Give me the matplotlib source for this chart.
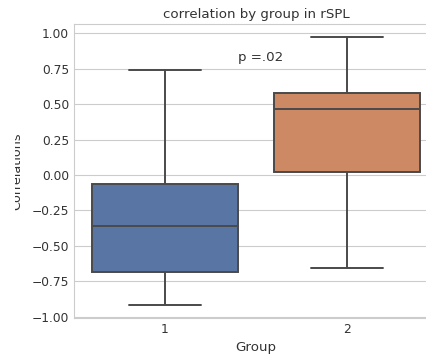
import matplotlib
matplotlib.use("Agg")
import matplotlib.pyplot as plt
import seaborn as sns
from matplotlib.transforms import Bbox, TransformedBbox

# box summary
groups = ["1", "2"]
whisker_low = [-0.915, -0.655]
q1 = [-0.683, 0.021]
median = [-0.36, 0.465]
q3 = [-0.063, 0.577]
whisker_high = [0.739, 0.972]
p_text = "p =.02"

sns.set_style("whitegrid")
plt.rcParams["font.family"] = ["DejaVu Sans"]

fig = plt.figure(figsize=(4.27, 3.6), dpi=100)
ax = fig.add_axes([74 / 427, 1 - 318 / 360, 364 / 427, 294 / 360])

stats = []
for i in range(len(groups)):
    stats.append({
        "label": groups[i],
        "whislo": whisker_low[i],
        "q1": q1[i],
        "med": median[i],
        "q3": q3[i],
        "whishi": whisker_high[i],
        "fliers": [],
    })

line_col = "#4a4a4a"
colors = [sns.desaturate(c, 0.75) for c in sns.color_palette("deep")[:2]]
bp = ax.bxp(stats, positions=range(len(groups)), widths=0.8, patch_artist=True,
            showfliers=False,
            boxprops=dict(edgecolor=line_col, linewidth=1.4),
            medianprops=dict(color=line_col, linewidth=1.4),
            whiskerprops=dict(color=line_col, linewidth=1.4),
            capprops=dict(color=line_col, linewidth=1.4))
for patch, c in zip(bp["boxes"], colors):
    patch.set_facecolor(c)

lo = min(whisker_low)
hi = max(whisker_high)
pad = (hi - lo) * 0.05
ax.set_ylim(lo - pad, hi + pad)
ax.set_xlim(-0.5, len(groups) - 0.5)
ax.set_yticks([-1.0, -0.75, -0.5, -0.25, 0.0, 0.25, 0.5, 0.75, 1.0])
ax.yaxis.set_major_formatter(
    matplotlib.ticker.FuncFormatter(lambda v, pos: ("%.2f" % v).replace("-", "\u2212")))
ax.xaxis.grid(False)
ax.tick_params(labelsize=8.8, colors="#333333", length=0)
for s in ax.spines.values():
    s.set_color("#cccccc")

ax.set_title("correlation by group in rSPL", fontsize=9.6, color="#333333", pad=4)
ax.set_xlabel("Group", fontsize=9.6, color="#333333")
ylab = ax.set_ylabel("Correlations", fontsize=9.2, color="#333333")
ax.yaxis.set_label_coords((23 - 74) / 364, 0.5)
ylab.set_clip_box(TransformedBbox(Bbox([[15 / 427, 0], [1, 1]]), fig.transFigure))
ylab.set_clip_on(True)

ax.text(0.4, 0.83, p_text, fontsize=9.6, color="#333333", va="center")

fig.savefig("out.png", dpi=100)
